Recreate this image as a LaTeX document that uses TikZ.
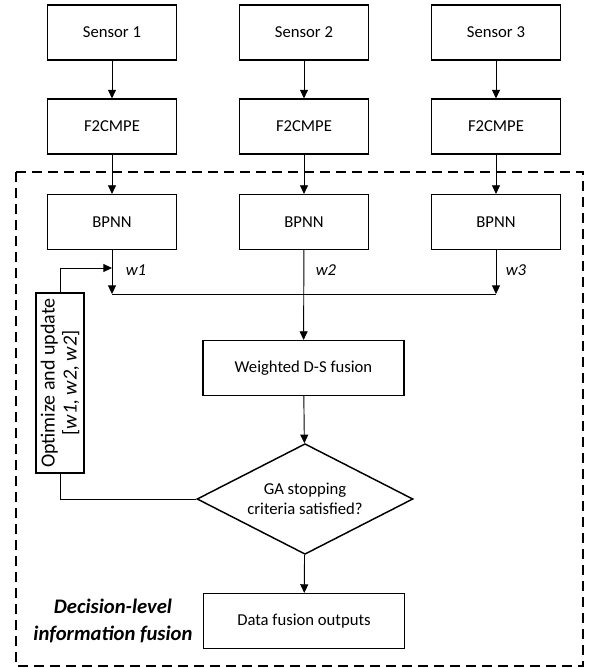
\documentclass[tikz,border=0pt]{standalone}
\usepackage{fontspec}
\setmainfont{Carlito}
\usetikzlibrary{positioning,arrows.meta,shapes.geometric}

\begin{document}
\begin{tikzpicture}[x=0.75pt,y=-0.75pt, every node/.style={font=\fontsize{12.5}{15}\selectfont, align=center},
  box/.style={draw, line width=1.1pt, minimum width=97pt, minimum height=41pt, inner sep=2pt},
  widebox/.style={box, minimum width=151pt},
  flow/.style={-{Triangle[length=6.5pt,width=6pt]}, line width=0.7pt},
  wlabel/.style={font=\fontsize{12.5}{15}\selectfont\itshape}]
  \useasboundingbox (0,0) rectangle (590,668);
  % fusion frame
  \draw[dashed, line width=1.3pt, dash pattern=on 7.5pt off 4.5pt] (16,172) rectangle (583,666);
  \node[box] (s1) at (112,32.5) {Sensor 1};
  \node[box] (s2) at (304,32.5) {Sensor 2};
  \node[box] (s3) at (496,32.5) {Sensor 3};
  \node[box] (f1) at (112,126.5) {F2CMPE};
  \node[box] (f2) at (304,126.5) {F2CMPE};
  \node[box] (f3) at (496,126.5) {F2CMPE};
  \node[box] (b1) at (112,222) {BPNN};
  \node[box] (b2) at (304,222) {BPNN};
  \node[box] (b3) at (496,222) {BPNN};
  \node[wlabel] (w1) at (136,270) {w1};
  \node[wlabel] (w2) at (326,270) {w2};
  \node[wlabel] (w3) at (516,270) {w3};
  \coordinate (j1) at (112,294);
  \coordinate (j3) at (496,294);
  \coordinate (fb) at (112,268);
  \node[widebox] (wds) at (303.5,368) {Weighted D-S fusion};
  \node[draw, diamond, line width=1.1pt, inner sep=0pt, shape aspect=2,
        minimum width=162pt, minimum height=83pt] (ga) at (305,499) {GA stopping\\criteria satisfied?};
  \node[widebox] (out) at (304,621) {Data fusion outputs};
  \node[draw, line width=1.1pt, rotate=90, minimum width=135pt, minimum height=36pt,
        inner sep=0pt, font=\fontsize{15}{16.5}\selectfont] (opt) at (60,383)
        {Optimize and update\\{}[\textit{w1, w2, w2}]};
  \node[font=\fontsize{15.5}{20}\selectfont\bfseries\itshape] (lbl) at (113,621) {Decision-level\\information fusion};
  % connectors
  \draw[flow] (s1) -- (f1);
  \draw[flow] (s2) -- (f2);
  \draw[flow] (s3) -- (f3);
  \draw[flow] (f1) -- (b1);
  \draw[flow] (f2) -- (b2);
  \draw[flow] (f3) -- (b3);
  \draw[flow] (b1) -- (j1);
  \draw[flow] (b3) -- (j3);
  \draw[line width=0.7pt] (j1) -- (j3);
  \draw[flow] (b2) -- (wds);
  \draw[flow] (wds) -- (ga);
  \draw[flow] (ga) -- (out);
  \draw[line width=0.7pt] (ga.west) -| (opt.west);
  \draw[flow] (opt.east) |- (fb);
\end{tikzpicture}
\end{document}
